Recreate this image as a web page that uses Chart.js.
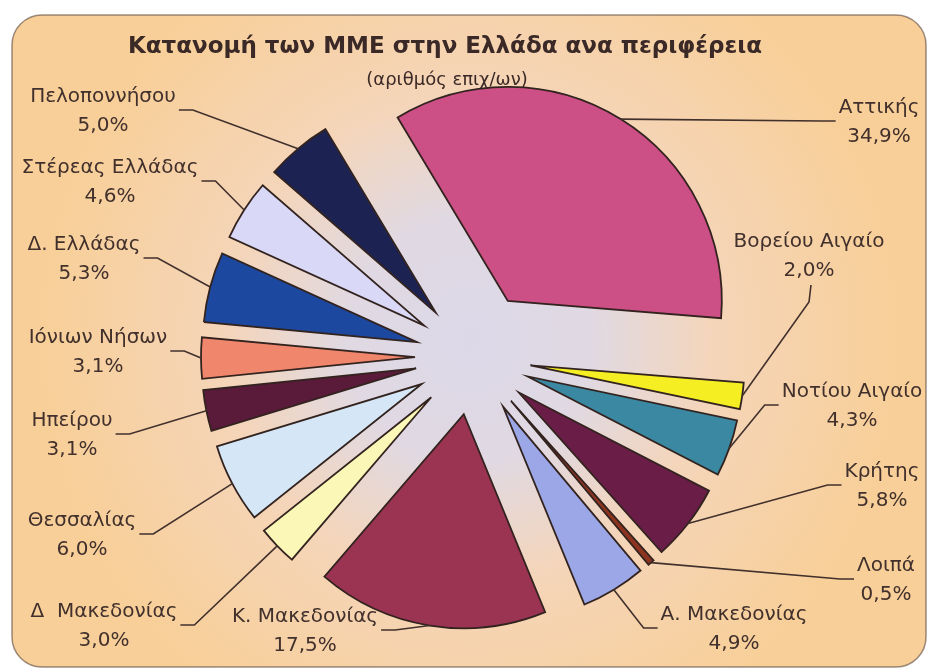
<!DOCTYPE html>
<html>
<head>
<meta charset="utf-8">
<script src="https://cdn.jsdelivr.net/npm/chart.js@4.4.0/dist/chart.umd.min.js"></script>
<style>
  html, body { margin: 0; padding: 0; background: #ffffff; }
  #wrap { width: 933px; height: 670px; position: relative; }
</style>
</head>
<body>
<div id="wrap"><canvas id="pieChart"></canvas></div>
<script>
// data (% of SMEs per region), clockwise from Attica
const regions = ['Αττικής', 'Βορείου Αιγαίο', 'Νοτίου Αιγαίο', 'Κρήτης', 'Λοιπά', 'Α. Μακεδονίας',
  'Κ. Μακεδονίας', 'Δ  Μακεδονίας', 'Θεσσαλίας', 'Ηπείρου', 'Ιόνιων Νήσων', 'Δ. Ελλάδας',
  'Στέρεας Ελλάδας', 'Πελοποννήσου'];
const shares = [34.9, 2.0, 4.3, 5.8, 0.5, 4.9, 17.5, 3.0, 6.0, 3.1, 3.1, 5.3, 4.6, 5.0];
const titleText = 'Κατανομή των ΜΜΕ στην Ελλάδα ανα περιφέρεια';
const subtitleText = '(αριθμός επιχ/ων)';

const sliceColors = ['#cc4f86', '#f4ee22', '#3a88a2', '#6a1d47', '#8c3420', '#9ba7e6',
  '#9a3452', '#fbf7b6', '#d5e6f6', '#5a1a3a', '#f0866c', '#1c48a0', '#d9d9f7', '#1c2252'];
const explode = [66, 58, 58, 58, 58, 58, 58, 58, 58, 58, 58, 58, 58, 58];

// where Excel put each data label (text centre of first line) and which side the leader hits
const labelSpots = [
  [879, 108, 'R'], [809, 242, 'B'], [852, 392, 'R'], [882, 472, 'R'], [886, 566, 'R'],
  [734, 615, 'R'], [305, 617, 'L'], [104, 612, 'L'], [82, 521, 'L'], [72, 421, 'L'],
  [98, 338, 'L'], [84, 245, 'L'], [110, 168, 'L'], [103, 97, 'L']
];

const textColor = '#41302c';
const labelFont = '20px "DejaVu Sans"';

function pct(v) {
  return v.toFixed(1).replace('.', ',') + '%';
}

// chart.js "offset" also shrinks/enlarges the arc, we want a plain explosion
const ArcEl = (Chart.elements && Chart.elements.ArcElement) || Chart.ArcElement;
const baseArcDraw = ArcEl.prototype.draw;
ArcEl.prototype.draw = function (ctx) {
  const push = this.options.offset || 0;
  const mid = (this.startAngle + this.endAngle) / 2;
  const opts = this.options;
  this.options = Object.assign({}, opts, { offset: 0 });
  ctx.save();
  ctx.translate(Math.cos(mid) * push, Math.sin(mid) * push);
  baseArcDraw.call(this, ctx);
  ctx.restore();
  this.options = opts;
};

const backdrop = {
  id: 'backdrop',
  beforeDraw(chart) {
    const ctx = chart.ctx;
    ctx.save();
    ctx.fillStyle = '#ffffff';
    ctx.fillRect(0, 0, chart.width, chart.height);
    const g = ctx.createRadialGradient(470, 340, 0, 470, 340, 430);
    g.addColorStop(0, '#dcd8e8');
    g.addColorStop(0.28, '#e0d9e3');
    g.addColorStop(0.58, '#f5d5b8');
    g.addColorStop(1, '#f8cf98');
    ctx.beginPath();
    ctx.roundRect(12, 15, 914, 652, 30);
    ctx.fillStyle = g;
    ctx.fill();
    ctx.lineWidth = 1.5;
    ctx.strokeStyle = 'rgba(90, 70, 60, 0.6)';
    ctx.stroke();

    ctx.fillStyle = '#3a2926';
    ctx.textAlign = 'center';
    ctx.textBaseline = 'middle';
    ctx.font = 'bold 23px "DejaVu Sans"';
    ctx.fillText(titleText, 445, 47);
    ctx.font = '18px "DejaVu Sans"';
    ctx.fillText(subtitleText, 447, 80);
    ctx.restore();
  }
};

const leaderLabels = {
  id: 'leaderLabels',
  afterDatasetsDraw(chart) {
    const ctx = chart.ctx;
    const arcs = chart.getDatasetMeta(0).data;
    ctx.save();
    ctx.font = labelFont;
    ctx.fillStyle = textColor;
    ctx.strokeStyle = textColor;
    ctx.lineWidth = 1.6;
    ctx.textAlign = 'center';
    ctx.textBaseline = 'middle';

    arcs.forEach((arc, i) => {
      const { x, y, startAngle, endAngle, outerRadius } = arc.getProps(['x', 'y', 'startAngle', 'endAngle', 'outerRadius'], true);
      const mid = (startAngle + endAngle) / 2;
      const r = outerRadius + (arc.options.offset || 0);
      const sx = x + Math.cos(mid) * r;
      const sy = y + Math.sin(mid) * r;

      const [cx, cy, side] = labelSpots[i];
      const line2 = pct(shares[i]);
      const w = Math.max(ctx.measureText(regions[i]).width, ctx.measureText(line2).width);
      let ex, ey, bx, by;
      if (side === 'L') {
        ex = cx + w / 2 + 3; ey = cy + 13; bx = ex + 14; by = ey;
      } else if (side === 'R') {
        ex = cx - w / 2 - 3; ey = cy + 13; bx = ex - 14; by = ey;
      } else {
        ex = cx + 2; ey = cy + 43; bx = cx; by = cy + 60;
      }
      ctx.beginPath();
      ctx.moveTo(sx, sy);
      ctx.lineTo(bx, by);
      ctx.lineTo(ex, ey);
      ctx.stroke();

      ctx.fillText(regions[i], cx, cy);
      ctx.fillText(line2, cx, cy + 29);
    });
    ctx.restore();
  }
};

new Chart(document.getElementById('pieChart'), {
  type: 'pie',
  data: {
    labels: regions,
    datasets: [{
      data: shares,
      backgroundColor: sliceColors,
      borderColor: '#33231f',
      borderWidth: 1.8,
      borderJoinStyle: 'miter',
      offset: explode,
      hoverOffset: 0,
      clip: false
    }]
  },
  options: {
    responsive: true,
    maintainAspectRatio: false,
    animation: false,
    rotation: -31,
    radius: 214,
    layout: { padding: { left: 100, right: 87, top: 180, bottom: 136 } },
    events: [],
    plugins: {
      legend: { display: false },
      tooltip: { enabled: false },
      title: { display: false }
    }
  },
  plugins: [backdrop, leaderLabels]
});
</script>
</body>
</html>
